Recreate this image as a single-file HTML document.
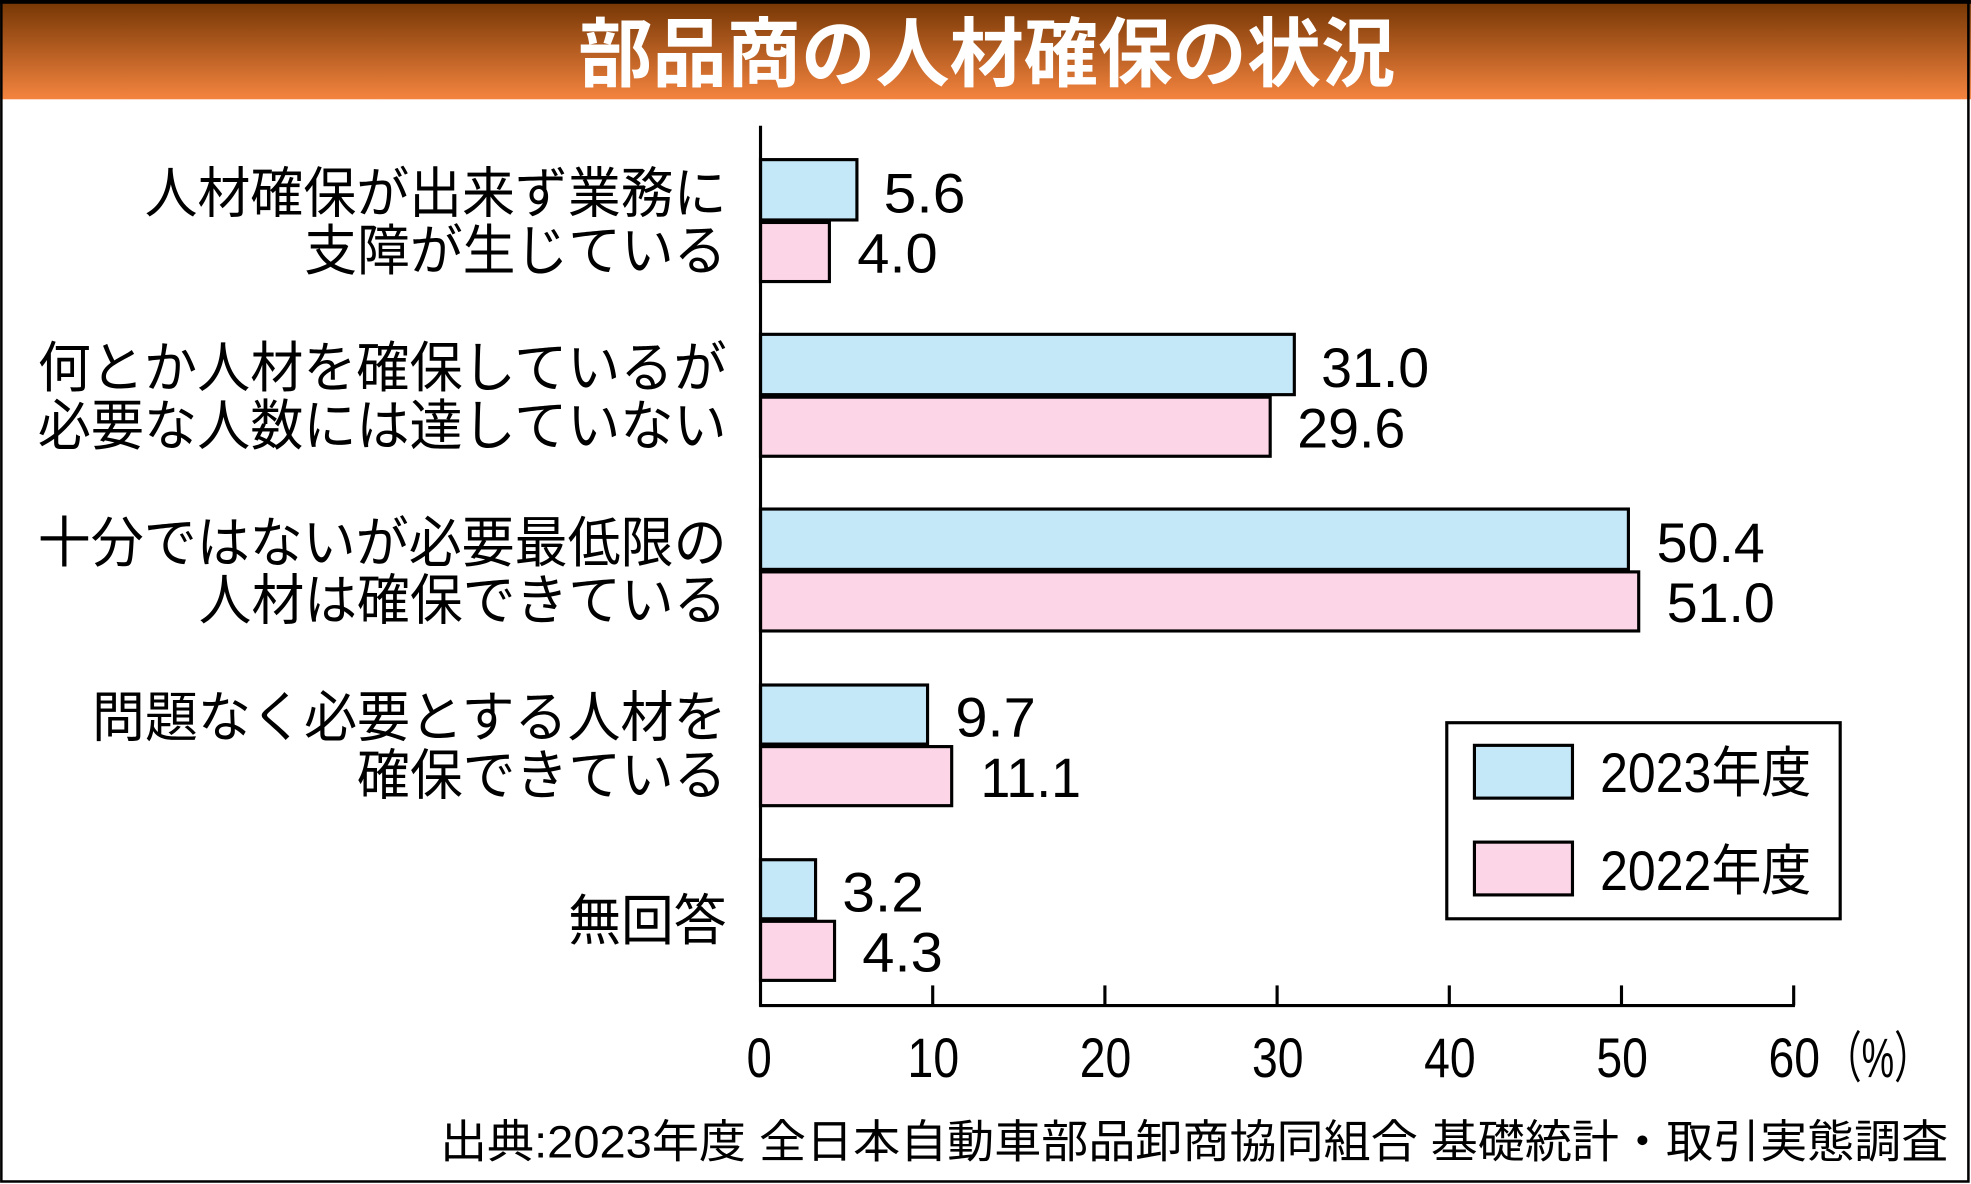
<!DOCTYPE html>
<html><head><meta charset="utf-8"><style>
html,body{margin:0;padding:0;background:#fff;}
svg{display:block;}
text{font-family:"Liberation Sans","Noto Sans CJK JP",sans-serif;fill:#000;}
</style></head><body>
<svg width="1971" height="1184" viewBox="0 0 1568 942" xmlns="http://www.w3.org/2000/svg">
<defs><linearGradient id="g" x1="0" y1="0" x2="0" y2="1">
<stop offset="0" stop-color="#733503"/><stop offset="1" stop-color="#f4843f"/></linearGradient></defs>
<rect x="0" y="0" width="1568" height="942" fill="#fff"/>
<rect x="0" y="0" width="1568" height="79" fill="url(#g)"/>
<rect x="0" y="0" width="1568" height="3" fill="#000"/>
<rect x="1" y="1" width="1565" height="939" fill="none" stroke="#000" stroke-width="2"/>
<text x="460" y="64" font-size="60" font-weight="bold" style="fill:#fff" textLength="650" lengthAdjust="spacingAndGlyphs">部品商の人材確保の状況</text>

<g font-size="44" text-anchor="end">
<text x="578" y="169" textLength="463" lengthAdjust="spacingAndGlyphs">人材確保が出来ず業務に</text>
<text x="578" y="215" textLength="336" lengthAdjust="spacingAndGlyphs">支障が生じている</text>
<text x="578" y="308" textLength="548" lengthAdjust="spacingAndGlyphs">何とか人材を確保しているが</text>
<text x="578" y="354" textLength="548" lengthAdjust="spacingAndGlyphs">必要な人数には達していない</text>
<text x="578" y="447" textLength="548" lengthAdjust="spacingAndGlyphs">十分ではないが必要最低限の</text>
<text x="578" y="493" textLength="420" lengthAdjust="spacingAndGlyphs">人材は確保できている</text>
<text x="578" y="586" textLength="505" lengthAdjust="spacingAndGlyphs">問題なく必要とする人材を</text>
<text x="578" y="632" textLength="294" lengthAdjust="spacingAndGlyphs">確保できている</text>
<text x="578" y="748" textLength="126" lengthAdjust="spacingAndGlyphs">無回答</text>
</g>

<g stroke="#000" stroke-width="2.5">
<rect x="605" y="127" width="76.7" height="48" fill="#c5e8f8"/>
<rect x="605" y="177" width="54.8" height="47" fill="#fcd5e6"/>
<rect x="605" y="266" width="424.7" height="48" fill="#c5e8f8"/>
<rect x="605" y="316" width="405.5" height="47" fill="#fcd5e6"/>
<rect x="605" y="405" width="690.5" height="48" fill="#c5e8f8"/>
<rect x="605" y="455" width="698.7" height="47" fill="#fcd5e6"/>
<rect x="605" y="545" width="132.9" height="47" fill="#c5e8f8"/>
<rect x="605" y="594" width="152.1" height="47" fill="#fcd5e6"/>
<rect x="605" y="684" width="43.8" height="47" fill="#c5e8f8"/>
<rect x="605" y="733" width="58.9" height="47" fill="#fcd5e6"/>
</g>
<g stroke="#000" stroke-width="2.5" fill="none">
<line x1="605" y1="100" x2="605" y2="801"/>
<line x1="604" y1="800" x2="1428" y2="800"/>
<line x1="742" y1="784" x2="742" y2="800"/>
<line x1="879" y1="784" x2="879" y2="800"/>
<line x1="1016" y1="784" x2="1016" y2="800"/>
<line x1="1153" y1="784" x2="1153" y2="800"/>
<line x1="1290" y1="784" x2="1290" y2="800"/>
<line x1="1427" y1="784" x2="1427" y2="800"/>
</g>

<g font-size="44">
<text x="703" y="169" textLength="65" lengthAdjust="spacingAndGlyphs">5.6</text>
<text x="682" y="217" textLength="64" lengthAdjust="spacingAndGlyphs">4.0</text>
<text x="1051" y="308" textLength="86" lengthAdjust="spacingAndGlyphs">31.0</text>
<text x="1032" y="356" textLength="86" lengthAdjust="spacingAndGlyphs">29.6</text>
<text x="1318" y="447" textLength="86" lengthAdjust="spacingAndGlyphs">50.4</text>
<text x="1326" y="495" textLength="86" lengthAdjust="spacingAndGlyphs">51.0</text>
<text x="760" y="586" textLength="64" lengthAdjust="spacingAndGlyphs">9.7</text>
<text x="780" y="634" textLength="80" lengthAdjust="spacingAndGlyphs">11.1</text>
<text x="670" y="725" textLength="65" lengthAdjust="spacingAndGlyphs">3.2</text>
<text x="686" y="773" textLength="64" lengthAdjust="spacingAndGlyphs">4.3</text>
</g>

<rect x="1151" y="575" width="313" height="156" fill="#fff" stroke="#000" stroke-width="2.5"/>
<rect x="1173" y="593" width="78" height="42" fill="#c5e8f8" stroke="#000" stroke-width="2.5"/>
<rect x="1173" y="670" width="78" height="42" fill="#fcd5e6" stroke="#000" stroke-width="2.5"/>
<g font-size="44">
<text x="1273" y="630" textLength="168" lengthAdjust="spacingAndGlyphs">2023年度</text>
<text x="1273" y="708" textLength="168" lengthAdjust="spacingAndGlyphs">2022年度</text>
</g>

<g font-size="44">
<text x="594" y="857" textLength="20" lengthAdjust="spacingAndGlyphs">0</text>
<text x="722" y="857" textLength="41" lengthAdjust="spacingAndGlyphs">10</text>
<text x="859" y="857" textLength="41" lengthAdjust="spacingAndGlyphs">20</text>
<text x="996" y="857" textLength="41" lengthAdjust="spacingAndGlyphs">30</text>
<text x="1133" y="857" textLength="41" lengthAdjust="spacingAndGlyphs">40</text>
<text x="1270" y="857" textLength="41" lengthAdjust="spacingAndGlyphs">50</text>
<text x="1407" y="857" textLength="41" lengthAdjust="spacingAndGlyphs">60</text>
<text x="1452" y="857" textLength="84" lengthAdjust="spacingAndGlyphs">（%）</text>
</g>
<text x="350" y="921" font-size="36" textLength="1200" lengthAdjust="spacingAndGlyphs">出典:2023年度 全日本自動車部品卸商協同組合 基礎統計・取引実態調査</text>
</svg>
</body></html>
